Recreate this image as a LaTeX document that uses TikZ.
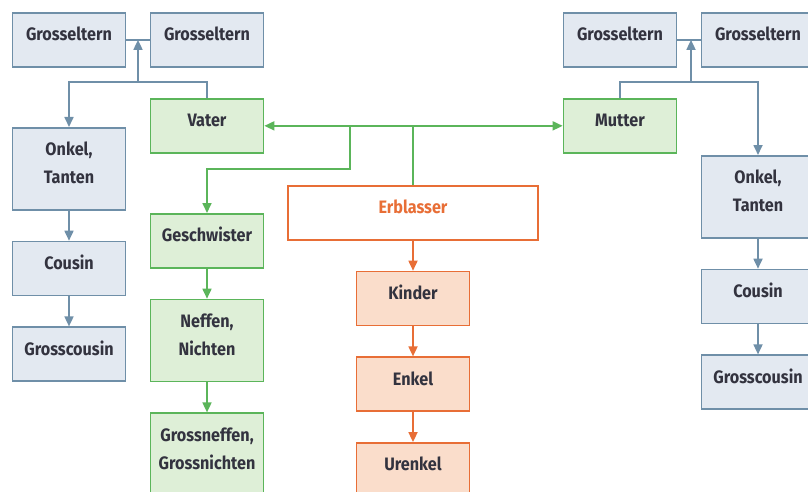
\documentclass[tikz,border=0pt]{standalone}
\usepackage{fontspec}
\setmainfont{Fira Sans}[FakeStretch=0.9]
\usepackage{tikz}
\usetikzlibrary{arrows.meta,positioning}
\definecolor{blueLine}{HTML}{6F8FA8}
\definecolor{blueFill}{HTML}{E3E9F1}
\definecolor{greenLine}{HTML}{5BB55A}
\definecolor{greenFill}{HTML}{DEEFD7}
\definecolor{orangeLine}{HTML}{E86E36}
\definecolor{orangeFill}{HTML}{FADDCB}
\definecolor{darkText}{HTML}{33333F}
\tikzset{
     famNode/.style =
        { rectangle
        , draw
        , line width=1.7pt
        , text width=105pt
        , align=center
        , inner xsep=4pt
        , inner ysep=14pt
        , text height=14pt
        , text depth=12pt
        , anchor=north
        , font=\fontsize{18}{28}\selectfont\bfseries
        , text=darkText
        }
   , twoLines/.style = {text depth=40pt}
   , blueNode/.style = {famNode, draw=blueLine, fill=blueFill}
   , greenNode/.style = {famNode, draw=greenLine, fill=greenFill}
   , orangeNode/.style = {famNode, draw=orangeLine, fill=orangeFill}
}

\begin{document}
\begin{tikzpicture}
            [ x=1pt
            , y=-1pt
            , >={Triangle[length=10pt,width=9pt]}
            , line width=1.7pt
            , node distance=30pt
            ]
            \useasboundingbox (0,0) rectangle (808,492);

            % father's side
            \node[blueNode] (ge1) at (69,12) {Grosseltern};
            \node[blueNode] (ge2) at (207,12) {Grosseltern};
            \node[greenNode] (vater) at (207,98) {Vater};
            \node[blueNode, twoLines] (onkelL) at (69,127) {Onkel,\\Tanten};
            \node[blueNode] (cousinL) [below=of onkelL] {Cousin};
            \node[blueNode] (gcousinL) [below=of cousinL] {Grosscousin};
            \node[greenNode] (gesch) at (207,213) {Geschwister};
            \node[greenNode, twoLines] (neffen) [below=of gesch] {Neffen,\\Nichten};
            \node[greenNode, twoLines] (gneffen) [below=of neffen] {Grossneffen,\\Grossnichten};

            % deceased and descendants
            \node[famNode, draw=orangeLine, fill=white, text=orangeLine, text width=242pt]
                (erbl) at (413,185) {Erblasser};
            \node[orangeNode] (kinder) [below=of erbl] {Kinder};
            \node[orangeNode] (enkel) [below=of kinder] {Enkel};
            \node[orangeNode] (urenkel) [below=of enkel] {Urenkel};

            % mother's side
            \node[blueNode] (ge3) at (620,12) {Grosseltern};
            \node[blueNode] (ge4) at (758,12) {Grosseltern};
            \node[greenNode] (mutter) at (620,98) {Mutter};
            \node[blueNode, twoLines] (onkelR) at (758,155) {Onkel,\\Tanten};
            \node[blueNode] (cousinR) [below=of onkelR] {Cousin};
            \node[blueNode] (gcousinR) [below=of cousinR] {Grosscousin};

            \coordinate (j1) at (138,82);
            \coordinate (j2) at (691,82);
            \coordinate (j3) at (350,169);

            \draw[blueLine] (ge1) -- (ge2);
            \draw[blueLine, ->] (j1) -- (j1 |- ge1.east);
            \draw[blueLine, ->] (vater.north) |- (j1) -| (onkelL.north);
            \draw[blueLine] (ge3) -- (ge4);
            \draw[blueLine, ->] (j2) -- (j2 |- ge3.east);
            \draw[blueLine, ->] (mutter.north) |- (j2) -| (onkelR.north);

            \draw[greenLine, <->] (vater.east) -- (mutter.west);
            \draw[greenLine] (erbl.north) -- (erbl.north |- vater.east);
            \draw[greenLine, ->] (j3 |- vater.east) -- (j3) -| (gesch.north);

            \path[->]
            (onkelL) edge [blueLine] (cousinL)
            (cousinL) edge [blueLine] (gcousinL)
            (onkelR) edge [blueLine] (cousinR)
            (cousinR) edge [blueLine] (gcousinR)
            (gesch) edge [greenLine] (neffen)
            (neffen) edge [greenLine] (gneffen)
            (erbl) edge [orangeLine] (kinder)
            (kinder) edge [orangeLine] (enkel)
            (enkel) edge [orangeLine] (urenkel)
            ;
\end{tikzpicture}
\end{document}
